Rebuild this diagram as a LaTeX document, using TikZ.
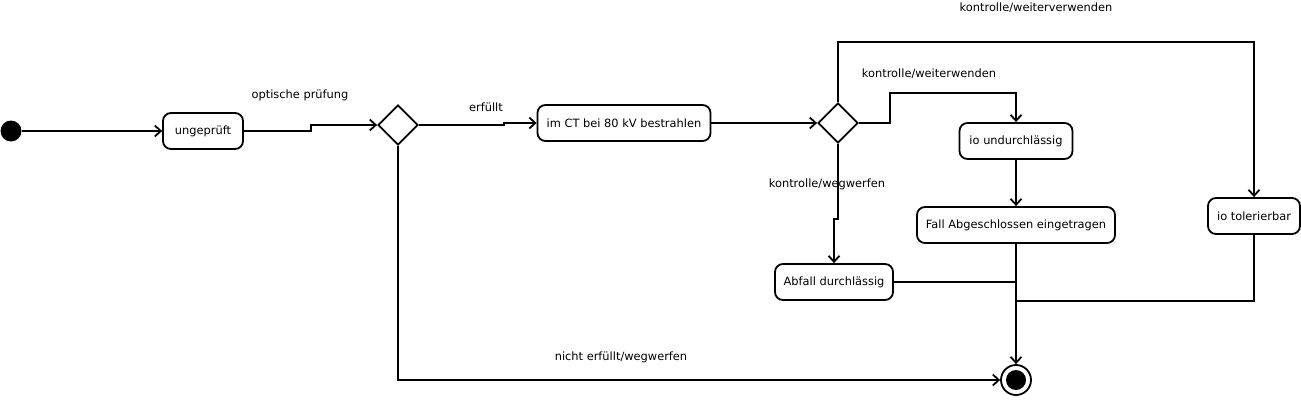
\documentclass[tikz,border=0pt]{standalone}
\usepackage{fontspec}
\setmainfont{DejaVu Sans}
\usetikzlibrary{arrows.meta,shapes.geometric}
\tikzset{
  zustand/.style={draw, rounded corners=8pt, line width=1.8pt, minimum height=36pt, inner sep=0pt, font=\fontsize{11.4}{13}\selectfont},
  raute/.style={draw, diamond, line width=1.8pt, minimum width=40pt, minimum height=40pt, inner sep=0pt},
  pfeil/.style={line width=1.8pt, -{Straight Barb[length=6pt,width=11pt]}},
  linie/.style={line width=1.8pt},
  beschr/.style={font=\fontsize{11.4}{13}\selectfont}
}
\begin{document}
\begin{tikzpicture}[x=1pt,y=-1pt]
          \useasboundingbox (0,0) rectangle (1301,415);
          % Zustaende
          \node[fill, circle, minimum size=21pt, inner sep=0pt] (start) at (11,131){};
          \node[zustand, minimum width=80pt] (ung) at (203,131){ungeprüft};
          \node[raute] (d1) at (398,125){};
          \node[zustand, minimum width=173pt] (ct) at (624,123){im CT bei 80 kV bestrahlen};
          \node[raute] (d2) at (838,123){};
          \node[zustand, minimum width=113pt] (und) at (1016,141){io undurchlässig};
          \node[zustand, minimum width=198pt] (fall) at (1016,225){Fall Abgeschlossen eingetragen};
          \node[zustand, minimum width=118pt] (abf) at (834,282){Abfall durchlässig};
          \node[zustand, minimum width=92pt] (tol) at (1254,216){io tolerierbar};
          \node[draw, circle, line width=1.8pt, minimum size=30pt, inner sep=0pt] (ende) at (1016,380){};
          \fill (ende) circle (10pt);
          % Beschriftungen
          \node[beschr] (l1) at (300,95){optische prüfung};
          \node[beschr] (l2) at (486,107){erfüllt};
          \node[beschr] (l3) at (1036,8){kontrolle/weiterverwenden};
          \node[beschr] (l4) at (929,74){kontrolle/weiterwenden};
          \node[beschr] (l5) at (827,184){kontrolle/wegwerfen};
          \node[beschr] (l6) at (621,357){nicht erfüllt/wegwerfen};
          % Uebergaenge
          \draw[pfeil] (start.east) -- (ung.west);
          \draw[pfeil] (ung.east) -- ++(67,0) |- (d1.west);
          \draw[pfeil] (d1.east) -- ++(85,0) |- (ct.west);
          \draw[pfeil] (ct.east) -- (d2.west);
          \draw[pfeil] (d2.north) -- ++(0,-60) -| (tol.north);
          \draw[pfeil] (d2.east) -- ++(31,0) -- ++(0,-30) -| (und.north);
          \draw[pfeil] (und.south) -- (fall.north);
          \draw[pfeil] (d2.south) -- ++(0,75) -| (abf.north);
          \draw[pfeil] (fall.south) -- (ende.north);
          \draw[linie] (abf.east) -- (abf.east -| ende);
          \draw[linie] (tol.south) |- (fall.south |- abf.south);
          \draw[pfeil] (d1.south) |- (ende.west);
\end{tikzpicture}
\end{document}
